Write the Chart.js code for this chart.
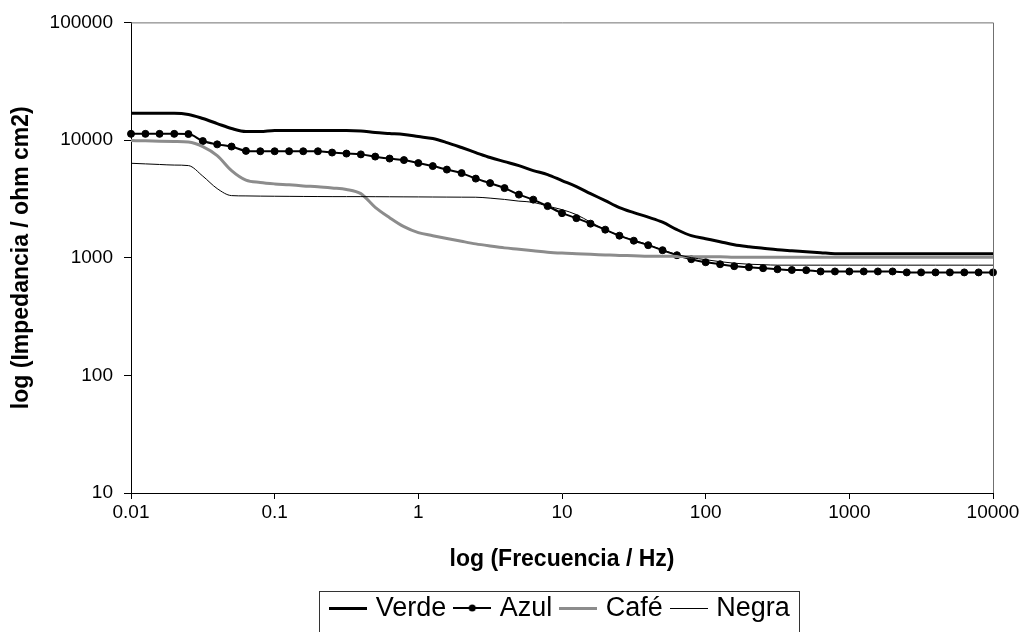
<!DOCTYPE html>
<html lang="es">
<head>
    <meta charset="UTF-8">
    <title>Impedancia vs Frecuencia</title>
    <script src="https://cdn.jsdelivr.net/npm/chart.js"></script>
    <style>
        html, body { margin: 0; padding: 0; background: #fff; overflow: hidden; }
        #wrap { width: 1026px; height: 632px; position: relative; }
    </style>
</head>
<body>
    <div id="wrap"><canvas id="impChart"></canvas></div>

    <script>
        // frecuencias (Hz), 10 puntos por década
        const frecuencias = [
            0.01, 0.0126, 0.0158, 0.02, 0.0251, 0.0316, 0.0398, 0.0501, 0.0631, 0.0794,
            0.1, 0.126, 0.158, 0.2, 0.251, 0.316, 0.398, 0.501, 0.631, 0.794,
            1, 1.26, 1.58, 2, 2.51, 3.16, 3.98, 5.01, 6.31, 7.94,
            10, 12.6, 15.8, 20, 25.1, 31.6, 39.8, 50.1, 63.1, 79.4,
            100, 126, 158, 200, 251, 316, 398, 501, 631, 794,
            1000, 1260, 1580, 2000, 2510, 3160, 3980, 5010, 6310, 7940,
            10000
        ];

        // impedancia (ohm cm2)
        const verde = [
            16900, 16900, 16900, 16900, 16500, 15240, 13810, 12530, 11810, 11810,
            12050, 12050, 12050, 12050, 12050, 12050, 11930, 11580, 11360, 11140,
            10710, 10300, 9520, 8640, 7830, 7100, 6560, 6070, 5500, 5090,
            4520, 4020, 3505, 3055, 2665, 2415, 2211, 2005, 1731, 1539,
            1451, 1368, 1290, 1241, 1205, 1170, 1147, 1125, 1103, 1081,
            1081, 1081, 1081, 1081, 1081, 1081, 1081, 1081, 1081, 1081,
            1081
        ];
        const azul = [
            11290, 11290, 11290, 11290, 11250, 9805, 9190, 8805, 8090, 8030,
            8030, 8030, 8030, 8030, 7830, 7675, 7555, 7236, 6960, 6757,
            6373, 6008, 5610, 5237, 4701, 4305, 3904, 3438, 3116, 2744,
            2391, 2169, 1947, 1731, 1539, 1395, 1278, 1158, 1050, 971,
            915, 880, 847, 830, 814, 798, 786, 783, 764, 764,
            764, 764, 764, 764, 750, 750, 750, 750, 750, 750,
            750
        ];
        const cafe = [
            9900, 9845, 9767, 9710, 9616, 8805, 7380, 5500, 4566, 4357,
            4240, 4166, 4077, 4005, 3911, 3805, 3505, 2680, 2190, 1835,
            1632, 1539, 1457, 1379, 1311, 1258, 1212, 1181, 1147, 1114,
            1094, 1081, 1069, 1056, 1044, 1040, 1030, 1030, 1025, 1020,
            1020, 1020, 1010, 1010, 1010, 1010, 1010, 1010, 1010, 1010,
            1010, 1010, 1010, 1010, 1010, 1010, 1010, 1010, 1010, 1010,
            1010
        ];
        const negra = [
            6347, 6273, 6200, 6128, 6067, 4937, 3866, 3371, 3351, 3338,
            3330, 3322, 3315, 3310, 3305, 3305, 3305, 3300, 3295, 3290,
            3286, 3280, 3275, 3270, 3266, 3209, 3128, 3026, 2955, 2744,
            2562, 2323, 2005, 1731, 1539, 1409, 1290, 1163, 1065, 1002,
            962, 925, 898, 880, 872, 864, 864, 864, 864, 864,
            864, 864, 864, 864, 864, 864, 864, 864, 864, 864,
            864
        ];

        const xTicks = [0.01, 0.1, 1, 10, 100, 1000, 10000];
        const yTicks = [10, 100, 1000, 10000, 100000];

        const FONT = "'Liberation Sans', Arial, sans-serif";

        const toPoints = vals => frecuencias.map((f, i) => ({ x: f, y: vals[i] }));

        // small canvases used as legend symbols
        function legendIcon(color, width, dot) {
            const c = document.createElement('canvas');
            c.width = 38; c.height = 13;
            const g = c.getContext('2d');
            const y = width % 2 ? 6.5 : 6;
            g.strokeStyle = color;
            g.lineWidth = width;
            g.beginPath();
            g.moveTo(0, y);
            g.lineTo(38, y);
            g.stroke();
            if (dot) {
                g.fillStyle = color;
                g.beginPath();
                g.arc(19, y, 3.5, 0, Math.PI * 2);
                g.fill();
            }
            return c;
        }
        const icons = [
            legendIcon('#000', 3, false),
            legendIcon('#000', 2, true),
            legendIcon('#8c8c8c', 3, false),
            legendIcon('#000', 1, false)
        ];

        // frame on top/right of the plot, box round the legend
        const framePlugin = {
            id: 'frame',
            afterDraw(chart) {
                const { ctx, chartArea: a } = chart;
                ctx.save();
                ctx.strokeStyle = '#707070';
                ctx.lineWidth = 1;
                ctx.beginPath();
                ctx.moveTo(a.left, a.top + 0.5);
                ctx.lineTo(a.right + 0.5, a.top + 0.5);
                ctx.lineTo(a.right + 0.5, a.bottom);
                ctx.stroke();

                const hb = chart.legend.legendHitBoxes;
                if (hb && hb.length) {
                    const last = hb[hb.length - 1];
                    const l = Math.round(hb[0].left - 15) + 0.5;
                    const r = Math.round(last.left + last.width + 9) + 0.5;
                    const t = Math.round(hb[0].top - 4) + 0.5;
                    ctx.strokeStyle = '#333';
                    ctx.strokeRect(l, t, r - l, chart.height + 10 - t);
                }
                ctx.restore();
            }
        };

        new Chart(document.getElementById('impChart'), {
            type: 'line',
            data: {
                datasets: [
                    {
                        label: 'Verde', data: toPoints(verde),
                        borderColor: '#000', borderWidth: 3, pointRadius: 0
                    },
                    {
                        label: 'Azul', data: toPoints(azul),
                        borderColor: '#000', borderWidth: 2,
                        pointStyle: 'circle', pointRadius: 3.5,
                        pointBackgroundColor: '#000', pointBorderColor: '#000', pointBorderWidth: 1
                    },
                    {
                        label: 'Café', data: toPoints(cafe),
                        borderColor: '#8c8c8c', borderWidth: 3, pointRadius: 0
                    },
                    {
                        label: 'Negra', data: toPoints(negra),
                        borderColor: '#000', borderWidth: 1, pointRadius: 0
                    }
                ].map(d => Object.assign(d, { fill: false, cubicInterpolationMode: 'monotone', clip: false }))
                 .reverse()
            },
            options: {
                responsive: true,
                maintainAspectRatio: false,
                animation: false,
                layout: { padding: { top: 22, right: 33, left: 0, bottom: 0 } },
                scales: {
                    x: {
                        type: 'logarithmic',
                        min: 0.01,
                        max: 10000,
                        afterBuildTicks: s => { s.ticks = xTicks.map(v => ({ value: v })); },
                        afterFit: s => { s.height = 90; },
                        grid: { drawOnChartArea: false, drawTicks: true, tickLength: 6, tickColor: '#000' },
                        border: { color: '#000', width: 1 },
                        ticks: {
                            callback: v => String(v),
                            color: '#000',
                            padding: 2,
                            maxRotation: 0,
                            font: { family: FONT, size: 19 }
                        },
                        title: {
                            display: true,
                            text: 'log (Frecuencia / Hz)',
                            color: '#000',
                            padding: { top: 0, bottom: 10 },
                            font: { family: FONT, size: 23, weight: 'bold' }
                        }
                    },
                    y: {
                        type: 'logarithmic',
                        min: 10,
                        max: 100000,
                        afterBuildTicks: s => { s.ticks = yTicks.map(v => ({ value: v })); },
                        afterFit: s => { s.width = 131; },
                        grid: { drawOnChartArea: false, drawTicks: true, tickLength: 7, tickColor: '#000' },
                        border: { color: '#000', width: 1 },
                        ticks: {
                            callback: v => String(v),
                            color: '#000',
                            padding: 11,
                            font: { family: FONT, size: 19 }
                        },
                        title: {
                            display: true,
                            text: 'log (Impedancia / ohm cm2)',
                            color: '#000',
                            padding: { top: 8, bottom: 0 },
                            font: { family: FONT, size: 23, weight: 'bold' }
                        }
                    }
                },
                plugins: {
                    tooltip: { enabled: false },
                    legend: {
                        position: 'bottom',
                        fullSize: false,
                        reverse: true,
                        labels: {
                            usePointStyle: true,
                            pointStyleWidth: 28,
                            padding: 12,
                            color: '#000',
                            font: { family: FONT, size: 27 },
                            generateLabels: chart => {
                                const items = Chart.defaults.plugins.legend.labels.generateLabels(chart);
                                return items.map(it => Object.assign(it, {
                                    pointStyle: icons[3 - it.datasetIndex]
                                }));
                            }
                        }
                    }
                }
            },
            plugins: [framePlugin]
        });
    </script>
</body>
</html>
